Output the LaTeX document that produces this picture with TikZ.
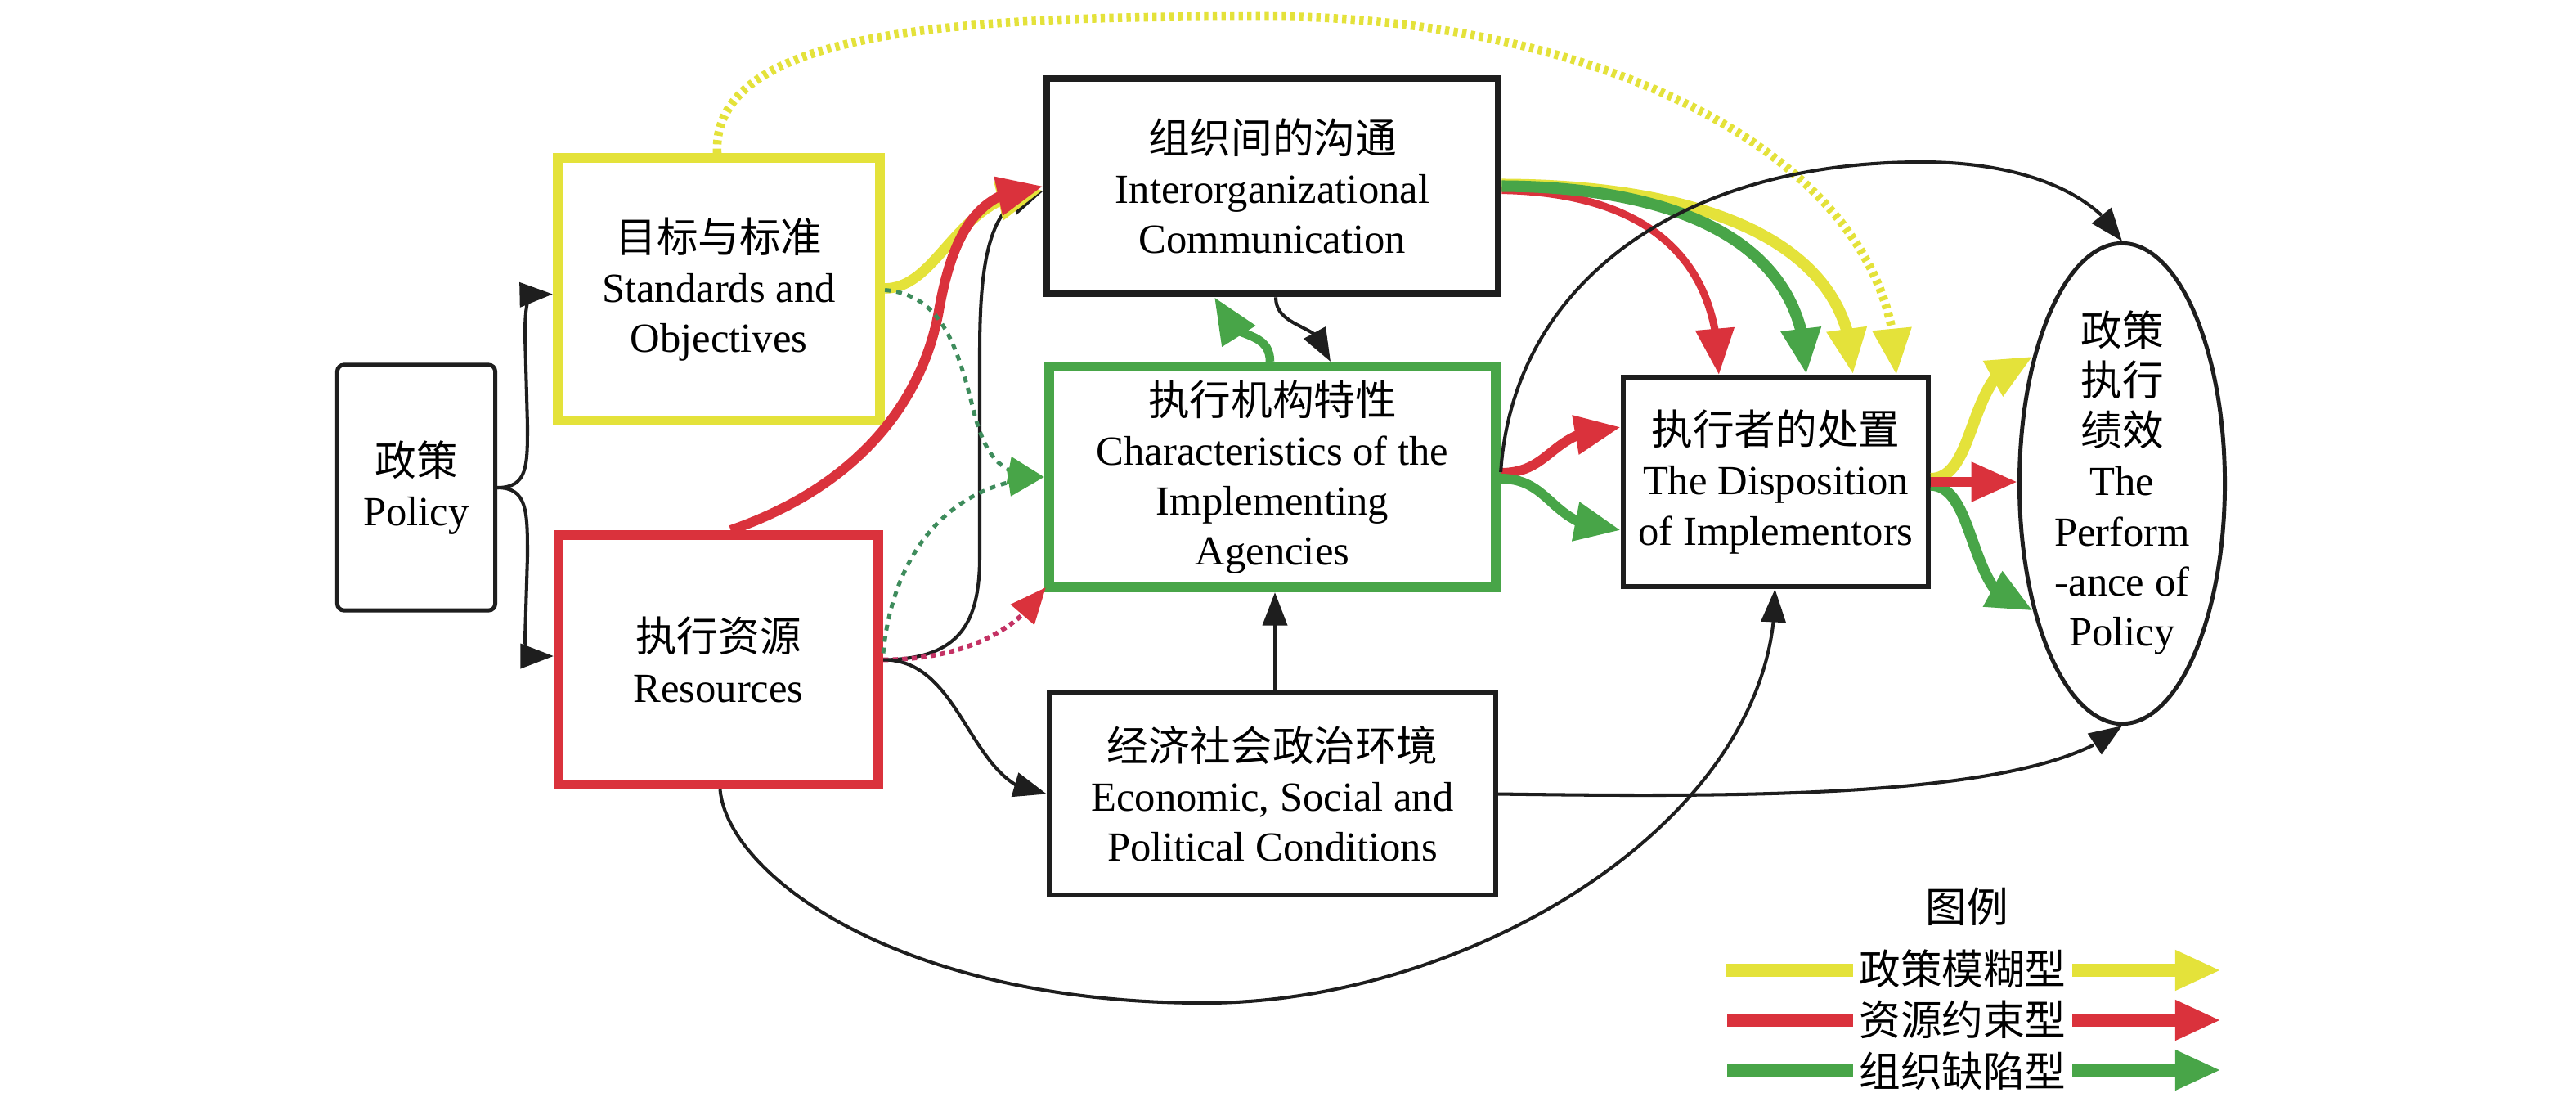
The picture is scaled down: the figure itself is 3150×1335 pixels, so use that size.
\documentclass[tikz,border=0pt]{standalone}
\usepackage{fontspec}
\setmainfont{Liberation Serif}
\newfontfamily\cjk{Noto Sans CJK SC}
\usetikzlibrary{arrows.meta,bending,calc,shapes.geometric}
\definecolor{ylw}{RGB}{228,226,58}
\definecolor{rd}{RGB}{218,50,60}
\definecolor{grn}{RGB}{72,165,72}
\definecolor{dgrn}{RGB}{62,140,92}
\definecolor{mag}{RGB}{196,50,100}
\definecolor{blk}{RGB}{30,30,30}
\tikzset{
  bx/.style={draw=blk, fill=white, inner sep=0pt, align=center, font=\fontsize{14.4pt}{17.4pt}\selectfont},
  txt/.style={inner sep=0pt, align=center, font=\fontsize{14.4pt}{17.4pt}\selectfont},
  blkln/.style={draw=blk, line width=1.15pt, -{Triangle[length=11.5pt,width=8.5pt]}},
  yln/.style={draw=ylw, line width=3.6pt, -{Triangle[length=16pt,width=13pt]}},
  rln/.style={draw=rd, line width=3.4pt, -{Triangle[length=16pt,width=13pt]}},
  gln/.style={draw=grn, line width=3.4pt, -{Triangle[length=16pt,width=13pt]}},
  ydot/.style={draw=ylw, line width=3pt, dash pattern=on 1.5pt off 1.5pt, -{Triangle[length=16pt,width=13pt]}},
  gdot/.style={draw=dgrn, line width=1.4pt, dash pattern=on 2pt off 2pt, -{Triangle[length=12.5pt,width=9.5pt,color=grn]}},
  mdot/.style={draw=mag, line width=1.6pt, dash pattern=on 1.8pt off 1.5pt, -{Triangle[length=12.5pt,width=10.5pt,color=rd]}},
  lgl/.style={line width=4.3pt},
}
\begin{document}
\begin{tikzpicture}[x=0.01cm,y=-0.01cm]
\fill[white] (0,0) rectangle (3150,1335);
\useasboundingbox (0,0) rectangle (3150,1335);

% boxes
\node[bx, line width=1.4pt, rounded corners=2.3pt, minimum width=1.93cm, minimum height=3.00cm] (policy) at (509,596) {{\cjk 政策}\\Policy};
\node[bx, draw=ylw, line width=3.4pt, minimum width=3.94cm, minimum height=3.21cm] (std) at (879,353.5) {{\cjk 目标与标准}\\Standards and\\Objectives};
\node[bx, draw=rd, line width=3.4pt, minimum width=3.91cm, minimum height=3.05cm] (res) at (878.5,806.5) {{\cjk 执行资源}\\Resources};
\node[bx, line width=2.4pt, minimum width=5.52cm, minimum height=2.63cm] (comm) at (1556,227.5) {{\cjk 组织间的沟通}\\Interorganizational\\Communication};
\node[bx, draw=grn, line width=3.4pt, minimum width=5.46cm, minimum height=2.70cm] (chr) at (1556,583) {{\cjk 执行机构特性}\\Characteristics of the\\Implementing\\Agencies};
\node[bx, line width=1.7pt, minimum width=5.46cm, minimum height=2.47cm] (econ) at (1556,970.5) {{\cjk 经济社会政治环境}\\Economic, Social and\\Political Conditions};
\node[bx, line width=1.7pt, minimum width=3.73cm, minimum height=2.56cm] (disp) at (2171.5,589) {{\cjk 执行者的处置}\\The Disposition\\of Implementors};
\node[ellipse, draw=blk, fill=white, line width=1.4pt, inner sep=0pt, minimum width=2.51cm, minimum height=5.87cm] (perf) at (2595,591) {};
\node[txt] (perft) at (2595,590) {{\cjk 政策}\\{\cjk 执行}\\{\cjk 绩效}\\The\\Perform\\-ance of\\Policy};

% Policy branches
\draw[blkln] (policy.east) .. controls (645,596) and (645,570) .. (645,520) -- (642,410) .. controls (642,375) and (645,362) .. (652,360) -- ($(std.west)+(0,6)$);
\draw[blkln] (policy.east) .. controls (645,596) and (645,625) .. (645,680) -- (642,780) .. controls (642,796) and (645,802) .. (652,802) -- ($(res.west)+(0,-4.5)$);

% dotted yellow big arc
\draw[ydot] ($(std.north)+(-2,0)$) .. controls (870,30) and (1200,20) .. (1550,20) .. controls (1950,20) and (2319,190) .. ($(disp.north west)+(337,0)$);

% into Comm from left
\draw[blkln] (res.east) .. controls (1175,806) and (1198,760) .. (1198,680) -- (1198,430) .. controls (1198,300) and (1215,240) .. ($(comm.west)+(0,6)$);
\draw[yln] ($(std.east)+(0,-1)$) .. controls (1150,352) and (1170,235) .. ($(comm.west)+(0,5)$);
\draw[rln] ($(res.north)+(15,0)$) .. controls (1060,590) and (1130,480) .. (1148,380) .. controls (1165,285) and (1195,230) .. ($(comm.west)+(0,0)$);

% dotted into Char
\draw[gdot] ($(std.east)+(0,1)$) .. controls (1150,360) and (1170,420) .. (1190,500) .. controls (1205,560) and (1225,583) .. (chr.west);
\draw[gdot] ($(res.east)+(0,-8)$) .. controls (1090,690) and (1150,590) .. (chr.west);
\draw[mdot] (res.east) .. controls (1180,806) and (1245,770) .. ($(chr.south west)+(2,-6)$);

% Resources to Econ and to Disp
\draw[blkln] (res.east) .. controls (1180,806) and (1185,968) .. (econ.west);
\draw[blkln] ($(res.south)+(2,0)$) .. controls (890,1070) and (1100,1226) .. (1473,1226) .. controls (1800,1226) and (2175,1000) .. ($(disp.south)+(-1,0)$);

% Econ up to Char, Econ to Perf
\draw[blkln] ($(econ.north)+(3,0)$) -- ($(chr.south)+(3,0)$);
\draw[blkln] (econ.east) .. controls (2150,975) and (2500,975) .. (perf.south);

% Char <-> Comm
\draw[gln, line width=3pt] ($(chr.north)+(-3,0)$) .. controls (1553,395) and (1485,420) .. ($(comm.south)+(-71,0)$);
\draw[blkln] ($(comm.south)+(4,0)$) .. controls (1560,405) and (1627,395) .. ($(chr.north)+(71,0)$);

% Comm to Disp
\draw[yln, line width=4pt] ($(comm.east)+(0,-2)$) .. controls (2070,226) and (2266,290) .. ($(disp.north west)+(284,0)$);
\draw[rln, line width=2.6pt] ($(comm.east)+(0,5)$) .. controls (1980,235) and (2102,290) .. ($(disp.north west)+(120,0)$);
\draw[gln, line width=4pt] (comm.east) .. controls (2020,228) and (2209,280) .. ($(disp.north west)+(227,0)$);

% Char to Disp
\draw[rln] ($(chr.east)+(0,-5)$) .. controls (1900,578) and (1895,522) .. ($(disp.west)+(0,-67)$);
\draw[gln] ($(chr.east)+(0,2)$) .. controls (1900,585) and (1895,648) .. ($(disp.west)+(0,59)$);

% Disp to Perf
\draw[yln, line width=4pt] ($(disp.east)+(0,-4)$) .. controls (2420,585) and (2405,440) .. (perf.125);
\draw[gln, line width=3.8pt] ($(disp.east)+(0,4)$) .. controls (2420,595) and (2405,745) .. (perf.235);
\draw[rln] (disp.east) -- (disp.east -| perf.west);

% Char to Perf (big arc)
\draw[blkln] ($(chr.east)+(0,-6)$) .. controls (1850,350) and (2050,198) .. (2350,198) .. controls (2480,198) and (2565,240) .. (perf.north);

% legend
\node[txt] (lgt) at (2405,1108) {\cjk 图例};
\node[txt, inner sep=2pt] (l1) at (2400,1184) {\cjk 政策模糊型};
\node[txt, inner sep=2pt] (l2) at (2400,1246) {\cjk 资源约束型};
\node[txt, inner sep=2pt] (l3) at (2400,1309) {\cjk 组织缺陷型};
\coordinate (l1a) at (2110,1186); \coordinate (l1b) at (2716,1186);
\coordinate (l2a) at (2112,1247); \coordinate (l2b) at (2716,1247);
\coordinate (l3a) at (2112,1308); \coordinate (l3b) at (2716,1308);
\draw[draw=ylw, lgl] (l1a) -- (l1a -| l1.west);
\draw[yln, lgl] (l1b -| l1.east) -- (l1b);
\draw[draw=rd, lgl] (l2a) -- (l2a -| l2.west);
\draw[rln, lgl] (l2b -| l2.east) -- (l2b);
\draw[draw=grn, lgl] (l3a) -- (l3a -| l3.west);
\draw[gln, lgl] (l3b -| l3.east) -- (l3b);
\end{tikzpicture}
\end{document}
